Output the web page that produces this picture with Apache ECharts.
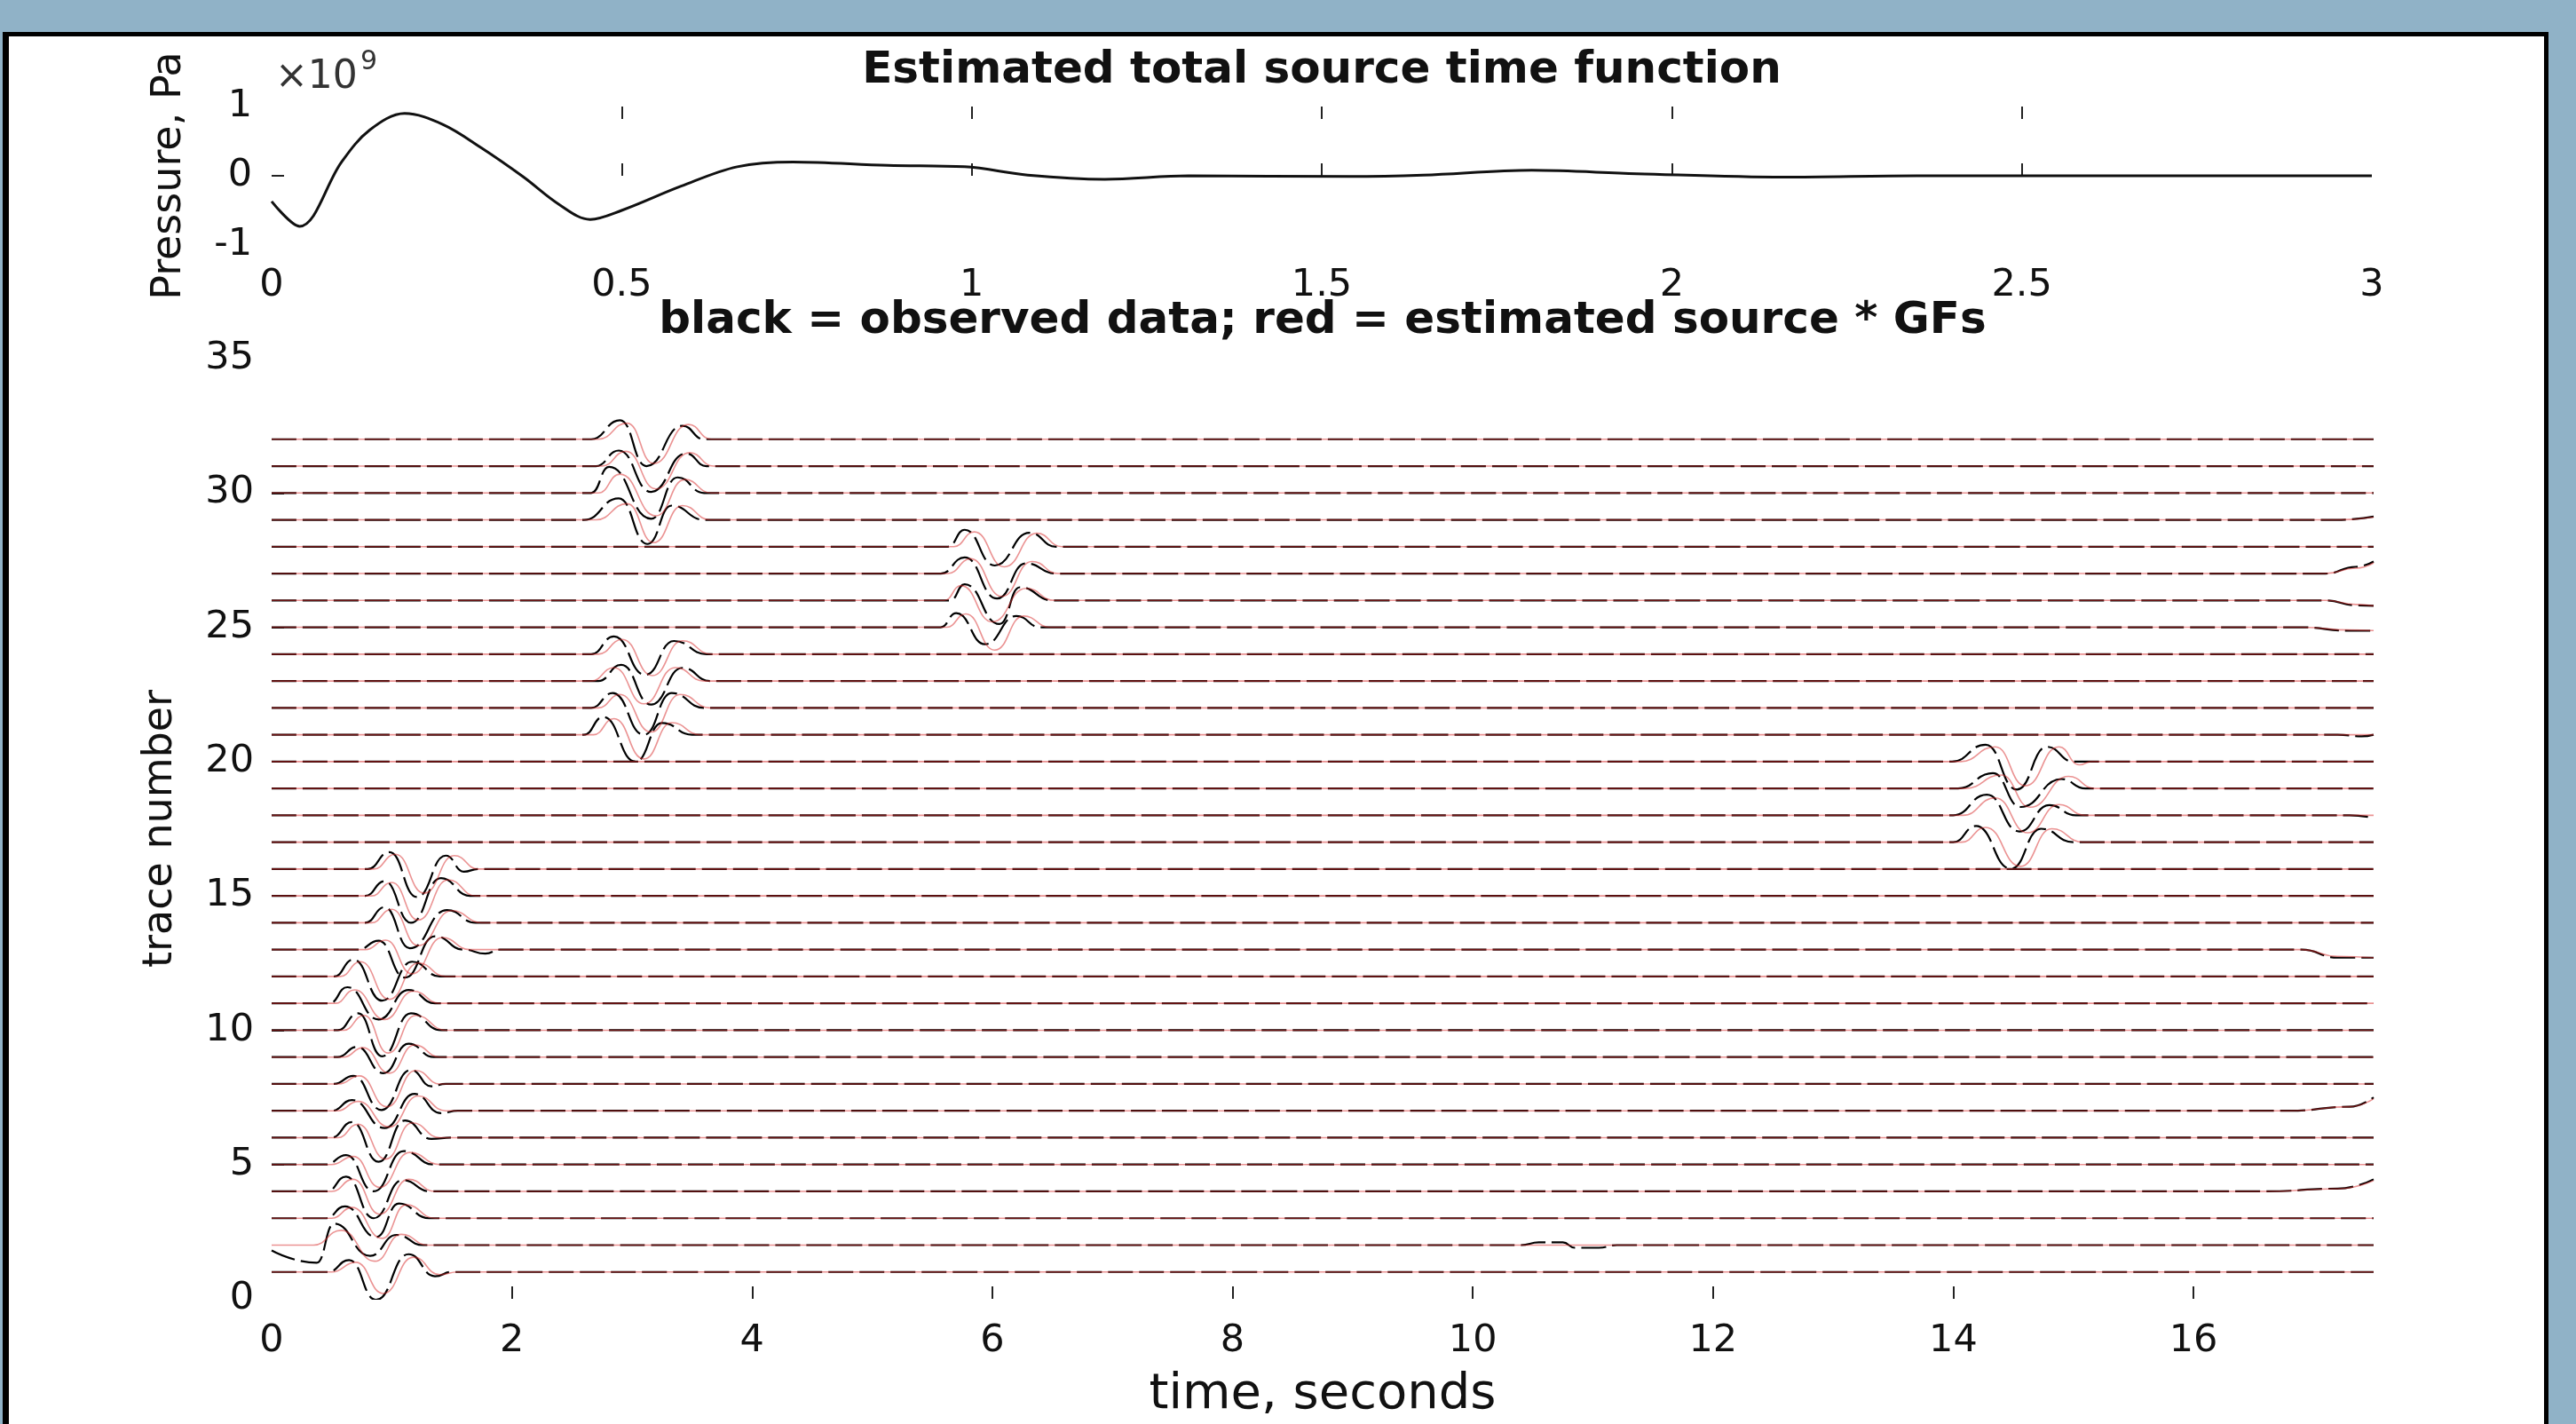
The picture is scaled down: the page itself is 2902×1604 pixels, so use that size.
<!DOCTYPE html>
<html><head><meta charset="utf-8">
<script src="https://cdn.jsdelivr.net/npm/echarts@6/dist/echarts.min.js"></script>
<style>
html,body{margin:0;padding:0;width:2902px;height:1604px;background:#90b2c7;overflow:hidden;}
#frame{position:absolute;left:3px;top:36px;width:2868px;height:1620px;background:#fff;border-top:5px solid #000;border-left:7px solid #000;border-right:5px solid #000;box-sizing:border-box;}
#chart{position:absolute;left:0;top:0;width:2902px;height:1604px;}
</style></head><body>
<div id="frame"></div><div id="chart"></div>
<script>
// ---------- Top panel: estimated total source time function (Pa, x1e9) ----------
const stfTime = [0,0.04,0.1,0.14,0.19,0.245,0.3,0.36,0.41,0.455,0.5,0.585,0.665,0.745,0.88,0.99,1.08,1.19,1.31,1.54,1.645,1.8,1.95,2.16,2.35,3];
const stfPressure1e9 = [-0.37,-0.73,0.2,0.66,0.9,0.74,0.4,-0.02,-0.41,-0.63,-0.5,-0.15,0.13,0.2,0.15,0.13,0.01,-0.05,0,-0.01,0.01,0.08,0.03,-0.02,0,0];
const stfXTicks = [0,0.5,1,1.5,2,2.5,3];
const stfYTicks = [-1,0,1];

// ---------- Bottom panel: traces (time s, amplitude relative to trace number) ----------
const traceNumbers = [1,2,3,4,5,6,7,8,9,10,11,12,13,14,15,16,17,18,19,20,21,22,23,24,25,26,27,28,29,30,31,32];
const observedBlack = [
 [[0,0],[0.47,0],[0.645,0.44],[0.87,-1.04],[1.14,0.66],[1.36,-0.16],[1.5,0],[17.5,0]],
 [[0,-0.2],[0.375,-0.66],[0.52,0.8],[0.82,-0.4],[1.04,0.38],[1.26,0],[10.4,0],[10.55,0.1],[10.75,0.1],[10.85,-0.1],[11.05,-0.1],[11.2,0],[17.5,0]],
 [[0,0],[0.45,0],[0.61,0.44],[0.87,-0.7],[1.06,0.55],[1.31,0],[17.5,0]],
 [[0,0],[0.46,0],[0.62,0.55],[0.85,-1.0],[1.09,0.42],[1.32,0],[16.6,0],[17.2,0.1],[17.5,0.45]],
 [[0,0],[0.45,0],[0.62,0.35],[0.85,-1.0],[1.1,0.5],[1.35,0],[17.5,0]],
 [[0,0],[0.5,0],[0.67,0.58],[0.89,-0.9],[1.11,0.64],[1.33,-0.05],[1.5,0],[17.5,0]],
 [[0,0],[0.5,0],[0.67,0.4],[0.94,-0.64],[1.19,0.63],[1.41,-0.09],[1.55,0],[16.8,0],[17.3,0.15],[17.5,0.5]],
 [[0,0],[0.52,0],[0.68,0.3],[0.915,-0.97],[1.16,0.52],[1.33,-0.09],[1.45,0],[17.5,0]],
 [[0,0],[0.55,0],[0.71,0.38],[0.93,-0.6],[1.14,0.5],[1.35,0],[17.5,0]],
 [[0,0],[0.55,0],[0.72,0.63],[0.92,-0.97],[1.16,0.63],[1.41,0],[17.5,0]],
 [[0,0],[0.48,0],[0.63,0.6],[0.89,-0.6],[1.14,0.5],[1.36,0],[17.5,0]],
 [[0,0],[0.52,0],[0.68,0.63],[0.92,-0.9],[1.17,0.55],[1.4,0],[17.5,0]],
 [[0,0],[0.72,0],[0.89,0.33],[1.11,-1.04],[1.36,0.5],[1.6,0],[1.78,-0.15],[1.9,0],[16.9,0],[17.2,-0.3],[17.5,-0.3]],
 [[0,0],[0.78,0],[0.94,0.58],[1.15,-0.95],[1.46,0.47],[1.7,0],[17.5,0]],
 [[0,0],[0.78,0],[0.94,0.55],[1.16,-1.0],[1.41,0.66],[1.65,0],[17.5,0]],
 [[0,0],[0.8,0],[0.98,0.63],[1.21,-1.04],[1.45,0.5],[1.6,-0.1],[1.72,0],[17.5,0]],
 [[0,0],[14.0,0],[14.19,0.6],[14.48,-0.99],[14.73,0.5],[15.0,0],[17.5,0]],
 [[0,0],[14.0,0],[14.28,0.77],[14.55,-0.6],[14.8,0.38],[15.02,0],[17.3,0],[17.5,-0.1]],
 [[0,0],[14.04,0],[14.33,0.57],[14.56,-0.69],[14.9,0.35],[15.1,0],[17.5,0]],
 [[0,0],[13.99,0],[14.27,0.63],[14.53,-1.04],[14.78,0.55],[15.0,0],[17.5,0]],
 [[0,0],[2.6,0],[2.76,0.66],[3.03,-1.0],[3.25,0.44],[3.5,0],[17.2,0],[17.4,-0.06],[17.5,0]],
 [[0,0],[2.66,0],[2.84,0.55],[3.1,-1.0],[3.33,0.55],[3.6,0],[17.5,0]],
 [[0,0],[2.72,0],[2.91,0.6],[3.16,-0.88],[3.42,0.49],[3.65,0],[17.5,0]],
 [[0,0],[2.66,0],[2.85,0.66],[3.11,-0.77],[3.35,0.49],[3.62,0],[17.5,0]],
 [[0,0],[5.57,0],[5.7,0.53],[5.94,-0.63],[6.2,0.42],[6.4,0],[16.9,0],[17.3,-0.13],[17.5,-0.13]],
 [[0,0],[5.65,0],[5.77,0.6],[6.06,-0.88],[6.23,0.49],[6.5,0],[17.1,0],[17.35,-0.18],[17.5,-0.2]],
 [[0,0],[5.57,0],[5.77,0.6],[6.04,-0.93],[6.28,0.38],[6.53,0],[17.1,0],[17.35,0.25],[17.5,0.45]],
 [[0,0],[5.63,0],[5.77,0.63],[6.02,-0.7],[6.31,0.52],[6.53,0],[17.5,0]],
 [[0,0],[2.6,0],[2.89,0.8],[3.13,-0.9],[3.33,0.53],[3.6,0],[17.2,0],[17.5,0.12]],
 [[0,0],[2.66,0],[2.81,0.97],[3.16,-0.96],[3.38,0.58],[3.6,0],[17.5,0]],
 [[0,0],[2.7,0],[2.89,0.58],[3.16,-0.96],[3.45,0.47],[3.62,0],[17.5,0]],
 [[0,0],[2.66,0],[2.9,0.71],[3.12,-1.0],[3.42,0.5],[3.6,0],[17.5,0]]
];
const predictedRed = [
 [[0,0],[0.5,0],[0.7,0.36],[0.93,-0.8],[1.18,0.55],[1.4,-0.1],[1.55,0],[17.5,0]],
 [[0,0],[0.35,0],[0.58,0.55],[0.86,-0.6],[1.08,0.4],[1.3,0],[17.5,0]],
 [[0,0],[0.5,0],[0.67,0.4],[0.92,-0.75],[1.12,0.5],[1.36,0],[17.5,0]],
 [[0,0],[0.5,0],[0.68,0.45],[0.9,-0.85],[1.14,0.45],[1.36,0],[16.6,0],[17.2,0.1],[17.5,0.4]],
 [[0,0],[0.5,0],[0.68,0.3],[0.9,-0.85],[1.15,0.45],[1.4,0],[17.5,0]],
 [[0,0],[0.55,0],[0.72,0.5],[0.95,-0.8],[1.17,0.55],[1.4,0],[17.5,0]],
 [[0,0],[0.55,0],[0.72,0.35],[0.98,-0.6],[1.22,0.55],[1.45,0],[16.8,0],[17.3,0.15],[17.5,0.45]],
 [[0,0],[0.56,0],[0.73,0.3],[0.96,-0.85],[1.2,0.5],[1.4,0],[17.5,0]],
 [[0,0],[0.6,0],[0.76,0.35],[0.98,-0.6],[1.19,0.45],[1.4,0],[17.5,0]],
 [[0,0],[0.6,0],[0.77,0.55],[0.97,-0.85],[1.2,0.55],[1.45,0],[17.5,0]],
 [[0,0],[0.53,0],[0.69,0.5],[0.94,-0.6],[1.18,0.45],[1.4,0],[17.5,0]],
 [[0,0],[0.57,0],[0.74,0.55],[0.98,-0.85],[1.22,0.5],[1.45,0],[17.5,0]],
 [[0,0],[0.78,0],[0.95,0.35],[1.17,-0.9],[1.42,0.45],[1.65,0],[16.9,0],[17.2,-0.25],[17.5,-0.3]],
 [[0,0],[0.83,0],[1.0,0.5],[1.22,-0.85],[1.5,0.45],[1.75,0],[17.5,0]],
 [[0,0],[0.83,0],[1.0,0.5],[1.22,-0.9],[1.47,0.6],[1.7,0],[17.5,0]],
 [[0,0],[0.85,0],[1.03,0.55],[1.27,-0.9],[1.52,0.5],[1.72,0],[17.5,0]],
 [[0,0],[14.07,0],[14.27,0.55],[14.56,-0.9],[14.82,0.5],[15.08,0],[17.5,0]],
 [[0,0],[14.08,0],[14.35,0.65],[14.62,-0.65],[14.88,0.4],[15.1,0],[17.5,0]],
 [[0,0],[14.1,0],[14.4,0.5],[14.64,-0.7],[14.96,0.45],[15.18,0],[17.5,0]],
 [[0,0],[14.06,0],[14.35,0.55],[14.6,-0.9],[14.88,0.55],[15.05,-0.12],[15.15,0],[17.5,0]],
 [[0,0],[2.68,0],[2.85,0.6],[3.1,-0.9],[3.33,0.45],[3.57,0],[17.5,0]],
 [[0,0],[2.72,0],[2.9,0.5],[3.16,-0.9],[3.4,0.5],[3.65,0],[17.5,0]],
 [[0,0],[2.66,0],[2.85,0.5],[3.1,-0.85],[3.36,0.5],[3.6,0],[17.5,0]],
 [[0,0],[2.72,0],[2.92,0.55],[3.17,-0.8],[3.42,0.5],[3.66,0],[17.5,0]],
 [[0,0],[5.62,0],[5.78,0.5],[6.02,-0.85],[6.26,0.42],[6.48,0],[16.9,0],[17.3,-0.1],[17.5,-0.12]],
 [[0,0],[5.6,0],[5.74,0.55],[6.0,-0.8],[6.28,0.45],[6.52,0],[17.1,0],[17.35,-0.15],[17.5,-0.2]],
 [[0,0],[5.63,0],[5.82,0.55],[6.08,-0.85],[6.33,0.45],[6.55,0],[17.1,0],[17.35,0.2],[17.5,0.4]],
 [[0,0],[5.68,0],[5.85,0.55],[6.1,-0.75],[6.37,0.5],[6.58,0],[17.5,0]],
 [[0,0],[2.7,0],[2.96,0.6],[3.18,-0.85],[3.42,0.53],[3.65,0],[17.2,0],[17.5,0.1]],
 [[0,0],[2.72,0],[2.9,0.7],[3.2,-0.85],[3.44,0.5],[3.66,0],[17.5,0]],
 [[0,0],[2.75,0],[2.95,0.55],[3.2,-0.85],[3.48,0.5],[3.68,0],[17.5,0]],
 [[0,0],[2.72,0],[2.96,0.6],[3.18,-0.9],[3.47,0.55],[3.66,0],[17.5,0]]
];
const traceXTicks = [0,2,4,6,8,10,12,14,16];
const traceYTicks = [0,5,10,15,20,25,30,35];

const FONT = 'DejaVu Sans';
const TXT = '#111';
const chart = echarts.init(document.getElementById('chart'), null, {renderer:'canvas'});

const tick = (vals) => ({show:true, inside:true, length:14, customValues:vals, lineStyle:{color:'#222', width:2}});
const lbl = (m) => ({fontFamily:FONT, fontSize:43, color:TXT, margin:m});

const series = [];
series.push({
  type:'line', xAxisIndex:0, yAxisIndex:0, showSymbol:false, smooth:0.35, silent:true,
  lineStyle:{color:'#111', width:3},
  data: stfTime.map((t,i)=>[t, stfPressure1e9[i]])
});
traceNumbers.forEach((k,i)=>{
  series.push({
    type:'line', xAxisIndex:2, yAxisIndex:1, showSymbol:false, smooth:0.5, smoothMonotone:'x', silent:true, z:2,
    lineStyle:{color:'#000', width:2.2, type:[28,7]},
    data: observedBlack[i].map(p=>[p[0], k + p[1]])
  });
});
traceNumbers.forEach((k,i)=>{
  series.push({
    type:'line', xAxisIndex:2, yAxisIndex:1, showSymbol:false, smooth:0.5, smoothMonotone:'x', silent:true, z:3,
    lineStyle:{color:'rgba(215,40,40,0.5)', width:1.6},
    data: predictedRed[i].map(p=>[p[0], k + p[1]])
  });
});

chart.setOption({
  backgroundColor:'transparent',
  animation:false,
  grid:[
    {left:306, top:120, width:2366, height:156},
    {left:306, top:404, width:2368, height:1062}
  ],
  xAxis:[
    {type:'value', gridIndex:0, min:stfXTicks[0], max:stfXTicks[stfXTicks.length-1], interval:0.5, position:'bottom',
     axisLine:{show:false}, splitLine:{show:false}, axisTick:tick(stfXTicks.slice(1,-1)),
     axisLabel:Object.assign(lbl(24), {formatter:v=>String(v)})},
    {type:'value', gridIndex:0, min:stfXTicks[0], max:stfXTicks[stfXTicks.length-1], interval:0.5, position:'top',
     axisLine:{show:false}, splitLine:{show:false}, axisTick:tick(stfXTicks.slice(1,-1)), axisLabel:{show:false}},
    {type:'value', gridIndex:1, min:traceXTicks[0], max:17.5, interval:2, position:'bottom',
     axisLine:{show:false}, splitLine:{show:false}, axisTick:tick(traceXTicks.slice(1)),
     axisLabel:Object.assign(lbl(26), {showMaxLabel:false}),
     name:'time, seconds', nameLocation:'middle', nameGap:80,
     nameTextStyle:{fontFamily:FONT, fontSize:56, color:TXT}}
  ],
  yAxis:[
    {type:'value', gridIndex:0, min:stfYTicks[0], max:stfYTicks[stfYTicks.length-1], interval:1,
     axisLine:{show:false}, splitLine:{show:false}, axisTick:tick([0]), axisLabel:lbl(22),
     name:'Pressure, Pa', nameLocation:'middle', nameGap:92, nameRotate:90,
     nameTextStyle:{fontFamily:FONT, fontSize:46, color:TXT}},
    {type:'value', gridIndex:1, min:traceYTicks[0], max:traceYTicks[traceYTicks.length-1], interval:5,
     axisLine:{show:false}, splitLine:{show:false}, axisTick:tick(traceYTicks.slice(1,-1)), axisLabel:lbl(20),
     name:'trace number', nameLocation:'middle', nameGap:102, nameRotate:90,
     nameTextStyle:{fontFamily:FONT, fontSize:46, color:TXT}}
  ],
  graphic:[
    {type:'text', x:1489, y:80, silent:true, style:{text:'Estimated total source time function', font:'bold 50px "DejaVu Sans"', fill:TXT, textAlign:'center', textVerticalAlign:'middle'}},
    {type:'text', x:1490, y:362, silent:true, style:{text:'black = observed data; red = estimated source * GFs', font:'bold 50px "DejaVu Sans"', fill:TXT, textAlign:'center', textVerticalAlign:'middle'}},
    {type:'text', x:310, y:88, silent:true, style:{text:'\u00d710', font:'44px "DejaVu Sans"', fill:'#333', textAlign:'left', textVerticalAlign:'middle'}},
    {type:'text', x:406, y:70, silent:true, style:{text:'9', font:'30px "DejaVu Sans"', fill:'#333', textAlign:'left', textVerticalAlign:'middle'}}
  ],
  series: series
});
</script></body></html>
